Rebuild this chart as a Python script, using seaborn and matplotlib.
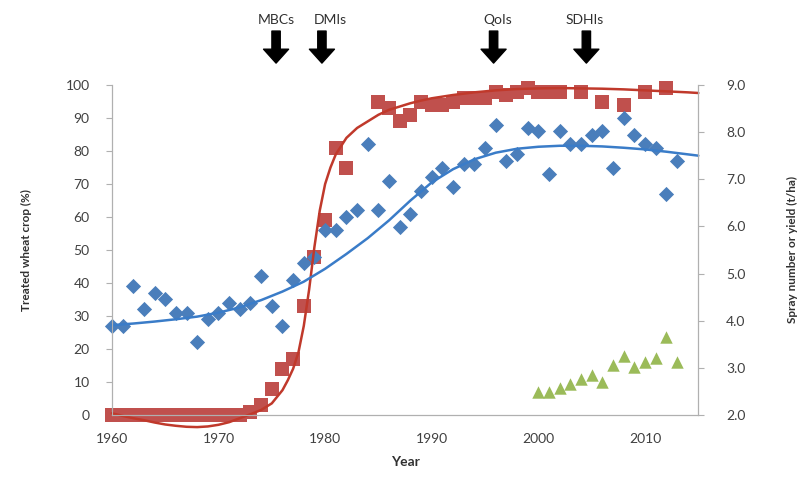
import matplotlib
matplotlib.use("Agg")
import matplotlib.pyplot as plt
import pandas as pd
import seaborn as sns

# treated crop (%) - blue diamonds
blue_years = list(range(1960, 2014))
blue_vals = [27, 27, 39, 32, 37, 35, 31, 31, 22, 29, 31, 34, 32, 34, 42, 33, 27, 41, 46, 48,
             56, 56, 60, 62, 82, 62, 71, 57, 61, 68, 72, 75, 69, 76, 76, 81, 88, 77, 79, 87,
             86, 73, 86, 82, 82, 85, 86, 75, 90, 85, 82, 81, 67, 77]

# treated crop (%) - red squares
red_years = list(range(1960, 1983)) + list(range(1985, 2003)) + [2004, 2006, 2008, 2010, 2012]
red_vals = [0] * 13 + [1, 3, 8, 14, 17, 33, 48, 59, 81, 75,
            95, 93, 89, 91, 95, 94, 94, 95, 96, 96, 96, 98, 97, 98, 99, 98, 98, 98,
            98, 95, 94, 98, 99]

# spray number / yield (right axis) - green triangles
green_years = list(range(2000, 2014))
green_vals = [2.49, 2.49, 2.57, 2.66, 2.76, 2.84, 2.70, 3.06, 3.25, 3.02, 3.12, 3.20, 3.65, 3.12]

# trend lines
red_fit_x = [1960, 1961, 1962, 1963, 1964, 1965, 1966, 1967, 1968, 1969, 1970, 1971, 1972,
             1973, 1974, 1975, 1976, 1976.5, 1977, 1977.5, 1978, 1978.5, 1979, 1979.5, 1980,
             1980.5, 1981, 1982, 1983, 1984, 1985, 1986, 1987, 1988, 1989, 1990, 1992, 1994,
             1996, 1998, 2000, 2002, 2004, 2006, 2008, 2010, 2012, 2014, 2015]
red_fit_y = [0.5, -0.3, -1.0, -1.6, -2.3, -2.9, -3.3, -3.6, -3.7, -3.5, -3.0, -2.2, -1.0,
             0.2, 1.5, 3.5, 7.5, 10.5, 14, 19, 27, 38, 51, 62, 70,
             75, 79, 84, 87, 89, 91, 92.5, 93.5, 94.5, 95.3, 96, 97, 97.8,
             98.4, 98.8, 99, 99.1, 99, 98.9, 98.7, 98.4, 98.1, 97.8, 97.6]

blue_fit_x = [1960, 1962, 1964, 1966, 1968, 1970, 1972, 1974, 1976, 1978, 1980, 1982, 1984,
              1986, 1988, 1990, 1992, 1994, 1996, 1998, 2000, 2002, 2004, 2006, 2008, 2010,
              2012, 2014, 2015]
blue_fit_y = [27.2, 27.7, 28.3, 29, 29.8, 31, 32.6, 34.8, 37.4, 40.4, 44.3, 48.8, 53.6,
              59, 65, 70.5, 74.5, 77.5, 79.5, 80.7, 81.3, 81.6, 81.6, 81.4, 81, 80.5,
              79.8, 79, 78.6]

# fungicide introductions
groups = ['MBCs', 'DMIs', 'QoIs', 'SDHIs']
group_years = [1975.4, 1979.7, 1995.8, 2004.5]
label_shift = [0, 0.8, 0.4, -0.2]

sns.set_style('white')
plt.rcParams['font.family'] = ['Lato', 'DejaVu Sans']

fig = plt.figure(figsize=(7.99, 4.78), dpi=100)
ax = fig.add_axes([0.140, 0.132, 0.734, 0.690])
ax2 = ax.twinx()

blue_df = pd.DataFrame({'Year': blue_years, 'pct': blue_vals})
red_df = pd.DataFrame({'Year': red_years, 'pct': red_vals})
green_df = pd.DataFrame({'Year': green_years, 'val': green_vals})

sns.scatterplot(data=red_df, x='Year', y='pct', marker='s', s=90, color='#c0504d',
                linewidth=0, ax=ax, zorder=2)
sns.scatterplot(data=blue_df, x='Year', y='pct', marker='D', s=60, color='#4a7ebb',
                linewidth=0, ax=ax, zorder=3)
sns.lineplot(x=red_fit_x, y=red_fit_y, color='#c0392b', lw=1.8, sort=False,
             estimator=None, ax=ax, zorder=4)
sns.lineplot(x=blue_fit_x, y=blue_fit_y, color='#3a7cc8', lw=1.8, sort=False,
             estimator=None, ax=ax, zorder=4)
sns.scatterplot(data=green_df, x='Year', y='val', marker='^', s=80, color='#9bbb59',
                linewidth=0, ax=ax2)

ax.set_xlim(1960, 2015)
ax.set_ylim(0, 100)
ax2.set_ylim(2, 9)
ax.set_xticks(range(1960, 2011, 10))
ax.set_yticks(range(0, 101, 10))
ax2.set_yticks([2, 3, 4, 5, 6, 7, 8, 9])
ax2.set_yticklabels([f'{v:.1f}' for v in range(2, 10)])

for a in (ax, ax2):
    a.spines['top'].set_visible(False)
    for s in ('left', 'right', 'bottom'):
        a.spines[s].set_color('#b0b0b0')
    a.tick_params(colors='#404040', labelsize=10, length=4, color='#b0b0b0')
ax.tick_params(axis='y', pad=12)
ax.tick_params(axis='x', pad=9)
ax2.tick_params(axis='y', pad=16)
for c in ax.collections + ax.lines:
    c.set_clip_on(False)

ax.set_xlabel('Year', fontsize=10, fontweight='bold', color='#303030', labelpad=8)
ax.set_ylabel('Treated wheat crop (%)', fontsize=8.5, fontweight='bold', color='#303030',
              labelpad=24)
ax2.set_ylabel('Spray number or yield (t/ha)', fontsize=8.5, fontweight='bold',
               color='#303030', labelpad=30)

for name, yr, dx in zip(groups, group_years, label_shift):
    ax.annotate('', xy=(yr, 0.868), xycoords=('data', 'figure fraction'),
                xytext=(yr, 0.935), textcoords=('data', 'figure fraction'),
                arrowprops=dict(facecolor='black', edgecolor='black', width=6,
                                headwidth=18, headlength=10, shrink=0))
    ax.annotate(name, xy=(yr + dx, 0.958), xycoords=('data', 'figure fraction'),
                ha='center', va='center', fontsize=10, color='#303030')

plt.savefig('out.png', dpi=100)
